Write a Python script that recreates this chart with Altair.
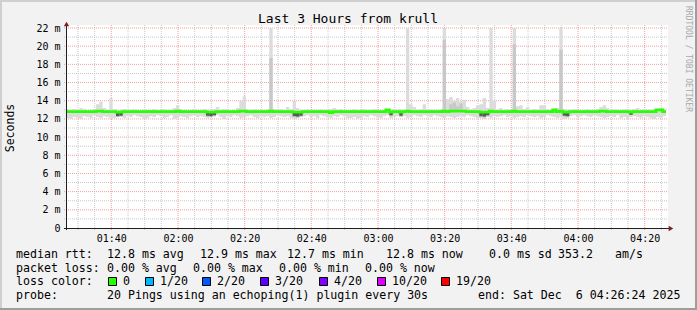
import altair as alt
import pandas as pd

FONT = "DejaVu Sans Mono"

# ---------------- data ----------------
START = 86.4   # 01:26:24, minutes after midnight
END = 266.4    # 04:26:24
STEP = 1.0     # one value per minute

smoke_max = [
    13.1, 13.0, 13.1, 13.0, 13.2, 13.1, 12.9, 13.0, 13.1, 13.6,
    13.9, 13.2, 13.0, 14.3, 13.1, 12.9, 13.0, 13.1, 12.9, 13.0,
    13.1, 13.0, 12.9, 13.1, 13.0, 13.0, 13.1, 12.9, 13.0, 13.1,
    13.0, 13.0, 13.2, 13.5, 13.1, 13.0, 12.9, 13.0, 13.1, 13.0,
    13.0, 13.1, 13.0, 13.0, 13.1, 13.3, 13.0, 13.1, 13.0, 12.9,
    13.0, 13.2, 14.0, 14.5, 13.1, 13.0, 13.1, 13.0, 12.9, 13.0,
    13.1, 22.0, 13.1, 13.0, 13.1, 13.0, 13.3, 13.1, 14.0, 13.2,
    13.0, 13.0, 13.1, 12.9, 13.0, 13.0, 13.1, 13.0, 13.0, 13.1,
    13.2, 13.0, 13.1, 13.0, 12.9, 13.0, 13.1, 13.0, 13.0, 13.1,
    13.0, 13.0, 13.1, 13.0, 12.9, 13.0, 13.1, 13.0, 13.1, 13.0,
    13.1, 13.0, 22.0, 13.6, 13.3, 13.0, 13.1, 13.6, 13.0, 13.1,
    13.0, 13.0, 13.1, 22.0, 14.2, 14.4, 14.0, 14.3, 13.9, 14.1,
    13.3, 13.1, 13.2, 13.5, 13.6, 14.3, 13.2, 22.0, 14.0, 13.1,
    13.2, 13.0, 13.1, 13.0, 22.0, 13.4, 13.5, 13.1, 13.3, 13.0,
    13.1, 13.0, 13.5, 13.5, 13.1, 13.0, 13.1, 13.2, 22.0, 13.1,
    13.0, 13.0, 13.1, 13.0, 12.9, 13.0, 13.1, 13.0, 13.0, 13.1,
    13.3, 13.5, 13.2, 13.0, 13.1, 13.0, 13.0, 13.1, 13.0, 13.0,
    13.1, 13.2, 13.0, 13.1, 13.0, 13.0, 13.1, 13.1, 13.2, 13.0,
]

smoke_min = [
    12.1, 12.0, 12.2, 12.1, 12.0, 12.3, 12.2, 12.1, 12.4, 12.2,
    12.1, 12.3, 12.2, 12.0, 12.1, 12.2, 12.3, 12.1, 12.3, 12.2,
    12.4, 12.3, 12.2, 12.0, 12.1, 12.3, 12.2, 12.4, 12.3, 12.1,
    12.2, 12.4, 12.0, 12.1, 12.3, 12.2, 12.1, 12.3, 12.4, 12.2,
    12.3, 12.2, 12.1, 12.2, 12.3, 12.4, 12.2, 12.0, 12.3, 12.2,
    12.4, 12.3, 12.1, 12.2, 12.3, 12.4, 12.2, 12.1, 12.3, 12.2,
    12.3, 12.1, 12.2, 12.4, 12.3, 12.2, 12.3, 12.1, 12.0, 12.1,
    12.2, 12.3, 12.4, 12.2, 12.3, 12.1, 12.4, 12.3, 12.2, 12.1,
    12.3, 12.2, 12.4, 12.3, 12.1, 12.1, 12.2, 12.0, 12.1, 12.3,
    12.2, 12.4, 12.3, 12.2, 12.1, 12.3, 12.4, 12.1, 12.2, 12.3,
    12.2, 12.3, 12.1, 12.2, 12.4, 12.3, 12.2, 12.4, 12.3, 12.2,
    12.4, 12.3, 12.2, 12.1, 12.3, 12.2, 12.1, 12.2, 12.3, 12.2,
    12.4, 12.3, 12.2, 12.1, 12.1, 12.0, 12.2, 12.1, 12.3, 12.2,
    12.3, 12.4, 12.2, 12.3, 12.1, 12.2, 12.3, 12.2, 12.4, 12.3,
    12.2, 12.3, 12.1, 12.2, 12.4, 12.3, 12.2, 12.1, 12.2, 12.0,
    12.1, 12.3, 12.4, 12.2, 12.3, 12.4, 12.3, 12.2, 12.4, 12.3,
    12.2, 12.1, 12.2, 12.3, 12.2, 12.4, 12.1, 12.2, 12.0, 12.2,
    12.3, 12.2, 12.1, 12.3, 12.2, 12.1, 12.0, 12.2, 12.1, 12.3,
]

median_rtt = [
    12.8, 12.8, 12.8, 12.8, 12.8, 12.8, 12.8, 12.8, 12.8, 12.85,
    12.85, 12.8, 12.8, 12.8, 12.8, 12.75, 12.75, 12.8, 12.8, 12.8,
    12.8, 12.8, 12.8, 12.8, 12.8, 12.8, 12.8, 12.8, 12.8, 12.8,
    12.8, 12.8, 12.8, 12.85, 12.8, 12.8, 12.8, 12.8, 12.8, 12.8,
    12.8, 12.8, 12.75, 12.75, 12.75, 12.8, 12.8, 12.8, 12.8, 12.8,
    12.8, 12.8, 12.85, 12.85, 12.8, 12.8, 12.8, 12.8, 12.8, 12.8,
    12.8, 12.85, 12.8, 12.8, 12.8, 12.8, 12.8, 12.8, 12.75, 12.75,
    12.75, 12.8, 12.8, 12.8, 12.8, 12.8, 12.8, 12.8, 12.8, 12.7,
    12.8, 12.8, 12.8, 12.8, 12.8, 12.8, 12.8, 12.8, 12.8, 12.8,
    12.8, 12.8, 12.8, 12.8, 12.8, 12.8, 13.0, 12.75, 12.8, 12.8,
    12.75, 12.8, 12.85, 12.8, 12.8, 12.8, 12.8, 12.8, 12.8, 12.8,
    12.8, 12.8, 12.8, 12.85, 12.8, 12.85, 12.85, 12.85, 12.85, 12.85,
    12.8, 12.8, 12.8, 12.8, 12.75, 12.75, 12.75, 12.85, 12.8, 12.8,
    12.8, 12.8, 12.8, 12.8, 12.85, 12.8, 12.8, 12.8, 12.8, 12.8,
    12.8, 12.8, 12.8, 12.8, 12.8, 12.8, 13.0, 12.8, 12.85, 12.75,
    12.75, 12.8, 12.8, 12.8, 12.8, 12.8, 12.8, 12.8, 12.8, 12.8,
    12.85, 12.85, 12.8, 12.8, 12.8, 12.8, 12.8, 12.8, 12.8, 12.75,
    12.8, 12.8, 12.8, 12.8, 12.8, 12.8, 12.8, 13.0, 13.0, 12.8,
]

# medium-grey smoke (inner pings)
mid_bin = [15, 16, 42, 43, 44, 61, 68, 69, 70, 97, 100, 113, 115, 116, 117, 118, 124, 125, 126, 134, 148, 149, 150]
mid_lo = [12.2, 12.25, 12.25, 12.2, 12.3, 13.0, 12.2, 12.15, 12.25, 12.3, 12.25, 13.0, 12.9, 12.9, 12.9, 12.9, 12.2, 12.15, 12.3, 13.0, 13.0, 12.25, 12.2]
mid_hi = [12.75, 12.75, 12.75, 12.75, 12.75, 18.7, 12.75, 12.75, 12.75, 12.75, 12.75, 20.7, 13.6, 13.8, 13.4, 13.7, 12.75, 12.75, 12.75, 20.2, 19.6, 12.75, 12.75]

# dark smoke patches
dark_bin = [15, 16, 42, 43, 44, 68, 69, 70, 97, 100, 124, 125, 126, 149, 150, 169]
dark_lo = [12.3, 12.35, 12.35, 12.3, 12.4, 12.3, 12.25, 12.35, 12.4, 12.35, 12.3, 12.25, 12.4, 12.35, 12.3, 12.45]
dark_hi = [12.75] * len(dark_bin)

x_tick_values = [100, 120, 140, 160, 180, 200, 220, 240, 260]
y_tick_values = [0, 2, 4, 6, 8, 10, 12, 14, 16, 18, 20, 22]
minor_x = [v for v in range(90, 266, 5) if v % 20 != 0]
minor_y = [1, 3, 5, 7, 9, 11, 13, 15, 17, 19, 21]
major_y = [2, 4, 6, 8, 10, 12, 14, 16, 18, 20, 22]

title_text = "Last 3 Hours from krull"
y_title = "Seconds"
watermark = "RRDTOOL / TOBI OETIKER"

row1_txt = ["median rtt:", "12.8 ms avg", "12.9 ms max", "12.7 ms min", "12.8 ms now", "0.0 ms sd", "353.2", "am/s"]
row2_txt = ["packet loss:", "0.00 % avg", "0.00 % max", "0.00 % min", "0.00 % now"]
row3_head = "loss color:"
loss_labels = ["0", "1/20", "2/20", "3/20", "4/20", "10/20", "19/20"]
loss_colors = ["#26ff00", "#00b8ff", "#0059ff", "#5e00ff", "#7e00ff", "#dd00ff", "#ff0000"]
row4_txt = ["probe:", "20 Pings using an echoping(1) plugin every 30s", "end: Sat Dec \u00a06 04:26:24 2025"]

# ---------------- layout (pixels) ----------------
PAD_L, PAD_T, W, H = 66, 28, 600, 200
TOTAL_W, TOTAL_H = 697, 310
LEG_SIZE = 11.6
row1_x = [16, 107, 200, 287, 386, 489, 558, 615]
row2_x = [16, 107, 193, 279, 365]
row3_x = 16
box_x = [108, 145, 202, 260, 319, 377, 441]
row4_x = [16, 107, 478]
row_y = [255, 268.5, 282, 296]

# ---------------- build tables ----------------
n = len(smoke_max)
t = [START + i * STEP for i in range(n)]
smoke_df = pd.DataFrame({
    "t": t + [START + n * STEP],
    "lo": smoke_min + [smoke_min[-1]],
    "hi": smoke_max + [smoke_max[-1]],
    "med": median_rtt + [median_rtt[-1]],
})
mid_df = pd.DataFrame({"t": [START + b * STEP for b in mid_bin],
                       "t2": [START + (b + 1) * STEP for b in mid_bin],
                       "lo": mid_lo, "hi": mid_hi})
dark_df = pd.DataFrame({"t": [START + b * STEP for b in dark_bin],
                        "t2": [START + (b + 1) * STEP for b in dark_bin],
                        "lo": dark_lo, "hi": dark_hi})

xscale = alt.Scale(domain=[START, END], nice=False, zero=False)
yscale = alt.Scale(domain=[0, 22], nice=False, zero=True)
xaxis = alt.Axis(values=x_tick_values,
                 labelExpr="(floor(datum.value/60) < 10 ? '0' : '') + floor(datum.value/60) + ':' + (datum.value % 60 < 10 ? '0' : '') + (datum.value % 60)",
                 labelFont=FONT, labelFontSize=10, labelColor="#000000", ticks=False, domain=False,
                 grid=False, labelPadding=5, title=None, labelFlush=False, labelOverlap=False)
yaxis = alt.Axis(values=y_tick_values,
                 labelExpr="datum.value == 0 ? '0' : datum.value + ' m'",
                 labelFont=FONT, labelFontSize=10, labelColor="#000000", ticks=False, domain=False,
                 grid=False, labelPadding=6, title=None, labelFlush=False, labelOverlap=False)


def X(f):
    return alt.X(f"{f}:Q", scale=xscale, axis=xaxis)


def Y(f):
    return alt.Y(f"{f}:Q", scale=yscale, axis=yaxis)


one = pd.DataFrame({"a": [0]})
layers = []

# frame shading
layers.append(alt.Chart(one).mark_rule(color="#CFCFCF", strokeWidth=2).encode(
    x=alt.value(-PAD_L), x2=alt.value(TOTAL_W - PAD_L), y=alt.value(1 - PAD_T)))
layers.append(alt.Chart(one).mark_rule(color="#CFCFCF", strokeWidth=2).encode(
    x=alt.value(1 - PAD_L), y=alt.value(-PAD_T), y2=alt.value(TOTAL_H - PAD_T)))
layers.append(alt.Chart(one).mark_rule(color="#9E9E9E", strokeWidth=2).encode(
    x=alt.value(TOTAL_W - PAD_L - 1), y=alt.value(-PAD_T), y2=alt.value(TOTAL_H - PAD_T)))
layers.append(alt.Chart(one).mark_rule(color="#9E9E9E", strokeWidth=2).encode(
    x=alt.value(-PAD_L), x2=alt.value(TOTAL_W - PAD_L), y=alt.value(TOTAL_H - PAD_T - 1)))

# canvas
layers.append(alt.Chart(one).mark_rect(color="#FFFFFF").encode(
    x=alt.value(0), x2=alt.value(W + 2), y=alt.value(-3), y2=alt.value(H)))

# grid
layers.append(alt.Chart(pd.DataFrame({"t": minor_x})).mark_rule(
    color="#C8C8C8", strokeWidth=1, strokeDash=[1, 1]).encode(
    x=X("t"), y=alt.value(-3), y2=alt.value(H + 2)))
layers.append(alt.Chart(pd.DataFrame({"v": minor_y})).mark_rule(
    color="#C8C8C8", strokeWidth=1, strokeDash=[1, 1]).encode(
    y=Y("v"), x=alt.value(-2), x2=alt.value(W + 2)))
layers.append(alt.Chart(pd.DataFrame({"t": x_tick_values})).mark_rule(
    color="#F0A0A0", strokeWidth=1, strokeDash=[1, 1]).encode(
    x=X("t"), y=alt.value(-3), y2=alt.value(H + 2)))
layers.append(alt.Chart(pd.DataFrame({"v": major_y})).mark_rule(
    color="#F0A0A0", strokeWidth=1, strokeDash=[1, 1]).encode(
    y=Y("v"), x=alt.value(-2), x2=alt.value(W + 2)))

# smoke
layers.append(alt.Chart(smoke_df).mark_area(interpolate="step-after", color="#DCDCDC", clip=True).encode(
    x=X("t"), y=Y("hi"), y2=alt.Y2("lo")))
layers.append(alt.Chart(mid_df).mark_rect(color="#C8C8C8", clip=True).encode(
    x=X("t"), x2=alt.X2("t2"), y=Y("hi"), y2=alt.Y2("lo")))
layers.append(alt.Chart(dark_df).mark_rect(color="#5A5A5A", clip=True).encode(
    x=X("t"), x2=alt.X2("t2"), y=Y("hi"), y2=alt.Y2("lo")))

# median line
layers.append(alt.Chart(smoke_df).mark_line(interpolate="step-after", color="#26FF00", strokeWidth=2.8).encode(
    x=X("t"), y=Y("med")))

# axes lines and arrows
layers.append(alt.Chart(one).mark_rule(color="#1F1F1F", strokeWidth=1).encode(
    x=alt.value(-2), x2=alt.value(W + 4), y=alt.value(H + 0.5)))
layers.append(alt.Chart(one).mark_rule(color="#1F1F1F", strokeWidth=1).encode(
    x=alt.value(0.5), y=alt.value(-4), y2=alt.value(H + 2)))
layers.append(alt.Chart(one).mark_point(shape="triangle-up", filled=True, size=28, color="#801F1F", opacity=1).encode(
    x=alt.value(0.5), y=alt.value(-4)))
layers.append(alt.Chart(one).mark_point(shape="triangle-right", filled=True, size=28, color="#801F1F", opacity=1).encode(
    x=alt.value(W + 5), y=alt.value(H + 0.5)))


# texts
def text(s, x, y, size=LEG_SIZE, align="left", color="#000000", angle=0):
    return alt.Chart(one).mark_text(font=FONT, fontSize=size, align=align, baseline="middle",
                                    color=color, angle=angle).encode(
        x=alt.value(x - PAD_L), y=alt.value(y - PAD_T), text=alt.value(s))


layers.append(text(title_text, 348, 19, size=13, align="center"))
layers.append(text(y_title, 11, 128, size=11.5, align="center", angle=270))
layers.append(text(watermark, 688, 59, size=8, align="center", color="#A8A8A8", angle=90))

for s, x in zip(row1_txt, row1_x):
    layers.append(text(s, x, row_y[0]))
for s, x in zip(row2_txt, row2_x):
    layers.append(text(s, x, row_y[1]))
layers.append(text(row3_head, row3_x, row_y[2]))
for s, c, bx in zip(loss_labels, loss_colors, box_x):
    layers.append(alt.Chart(one).mark_rect(fill=c, stroke="#000000", strokeWidth=1).encode(
        x=alt.value(bx - PAD_L + 0.5), x2=alt.value(bx - PAD_L + 8.5),
        y=alt.value(row_y[2] - 4.5 - PAD_T), y2=alt.value(row_y[2] + 3.5 - PAD_T)))
    layers.append(text(s, bx + 15, row_y[2]))
for s, x in zip(row4_txt, row4_x):
    layers.append(text(s, x, row_y[3]))

chart = alt.layer(*layers).properties(
    width=W, height=H,
    padding={"left": PAD_L, "top": PAD_T, "right": TOTAL_W - PAD_L - W, "bottom": TOTAL_H - PAD_T - H},
    autosize=alt.AutoSizeParams(type="none"),
    background="#F2F2F2",
).configure_view(stroke=None)

chart.save("out.html", embed_options={"renderer": "svg", "actions": False})
